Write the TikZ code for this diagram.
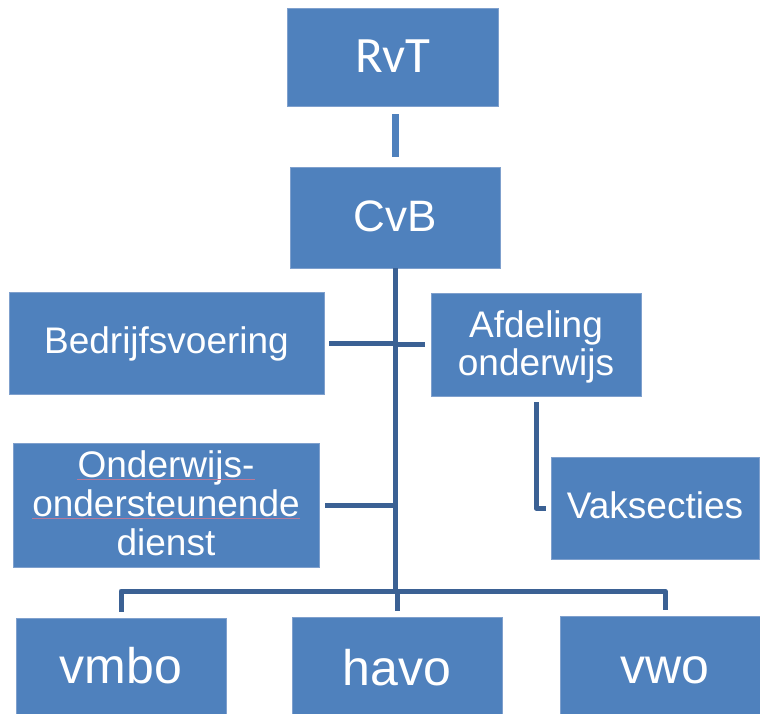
\documentclass[tikz,border=0pt]{standalone}
\usepackage{fontspec}
\setmainfont{Liberation Sans}
\newfontfamily\calibfont{Carlito}
\definecolor{boxblue}{HTML}{4F81BD}
\definecolor{boxedge}{HTML}{7FA0CD}
\definecolor{linkdark}{HTML}{3B6194}
\definecolor{spellred}{HTML}{B87A9A}
\begin{document}
\begin{tikzpicture}[x=1pt,y=-1pt,
  box/.style={draw=boxedge, line width=0.8pt, fill=boxblue, inner sep=0pt},
  lbl/.style={text=white, inner sep=0pt, anchor=base},
  midfont/.style={font=\fontsize{37}{39}\selectfont},
  bigfont/.style={font=\fontsize{50}{52}\selectfont},
  conn/.style={draw=linkdark, line width=5pt, line join=round},
  toplink/.style={draw=boxblue, line width=7pt},
  spell/.style={draw=spellred, line width=0.4pt}]
\useasboundingbox (0,0) rectangle (760,713);
\clip (0,0) rectangle (760,713);

% boxes
\node[box, minimum width=211pt, minimum height=98pt]  (rvt)  at (392.5,57)  {};
\node[box, minimum width=210pt, minimum height=101pt] (cvb)  at (395,217.5) {};
\node[box, minimum width=315pt, minimum height=102pt] (bedr) at (166.5,343) {};
\node[box, minimum width=210pt, minimum height=103pt] (afd)  at (536,344.5) {};
\node[box, minimum width=208pt, minimum height=102pt] (vak)  at (655,508)   {};
\node[box, minimum width=306pt, minimum height=124pt] (ood)  at (166,505)   {};
\node[box, minimum width=210pt, minimum height=105pt] (vmbo) at (121,670.5) {};
\node[box, minimum width=210pt, minimum height=106pt] (havo) at (397,670)   {};
\node[box, minimum width=210pt, minimum height=107pt] (vwo)  at (665,669.5) {};

\coordinate (bus) at (395,591);

% connectors
\draw[toplink] ([yshift=-8pt]cvb.north |- rvt.south) -- ([yshift=10pt]cvb.north);
\draw[conn] (cvb.south) -- (cvb.south |- bus);
\draw[conn] ([xshift=5pt]bedr.east) -- (bedr.east -| cvb.south);
\draw[conn] (afd.west -| cvb.south) -- ([xshift=-6pt]afd.west);
\draw[conn] ([xshift=6pt]ood.east) -- (ood.east -| cvb.south);
\draw[conn] ([yshift=-6pt]afd.south) |- ([xshift=-5pt]vak.west);
\draw[conn] ([yshift=6pt]vmbo.north) |- (bus) -| ([yshift=6pt]vwo.north);
\draw[conn] ([yshift=6pt]havo.north) -- (havo.north |- bus);

% labels
\node[lbl, font=\calibfont\fontsize{51}{53}\selectfont] (trvt) at (rvt.center |- 0,72) {RvT};
\node[lbl, font=\fontsize{44}{46}\selectfont] (tcvb) at (cvb.center |- 0,231) {CvB};
\node[lbl, midfont] (tbedr) at (bedr.center |- 0,353) {Bedrijfsvoering};
\node[lbl, midfont] (tafd1) at (afd.center |- 0,337) {Afdeling};
\node[lbl, midfont] (tafd2) at (afd.center |- 0,375) {onderwijs};
\node[lbl, midfont] (tvak) at (vak.center |- 0,518) {Vaksecties};
\node[lbl, midfont] (tood1) at (ood.center |- 0,477) {Onderwijs-};
\node[lbl, midfont] (tood2) at (ood.center |- 0,516) {ondersteunende};
\node[lbl, midfont] (tood3) at (ood.center |- 0,555) {dienst};
\node[lbl, bigfont] (tvmbo) at (vmbo.center |- 0,683) {vmbo};
\node[lbl, bigfont] (thavo) at (havo.center |- 0,685) {havo};
\node[lbl, bigfont] (tvwo) at (vwo.center |- 0,683) {vwo};

% spell-check underlines
\draw[spell] ([yshift=-2pt]tood1.base west) -- ([yshift=-2pt]tood1.base east);
\draw[spell] ([yshift=-2pt]tood2.base west) -- ([yshift=-2pt]tood2.base east);
\end{tikzpicture}
\end{document}
